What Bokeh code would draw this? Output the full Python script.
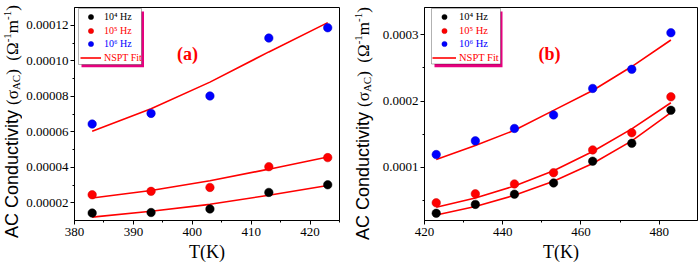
from bokeh.plotting import figure
from bokeh.layouts import row
from bokeh.models import (Range1d, SingleIntervalTicker, PrintfTickFormatter,
                          Legend, LegendItem, BoxAnnotation, Label, Div)
from bokeh.embed import file_html
from bokeh.resources import INLINE

# ---------------- data ----------------
T_a = [383, 393, 403, 413, 423]
a_1e4 = [1.43e-5, 1.46e-5, 1.66e-5, 2.59e-5, 3.02e-5]
a_1e5 = [2.46e-5, 2.65e-5, 2.87e-5, 4.04e-5, 4.55e-5]
a_1e6 = [6.44e-5, 7.04e-5, 8.02e-5, 1.128e-4, 1.186e-4]
a_fit_1e4 = [1.20e-5, 1.53e-5, 1.92e-5, 2.43e-5, 2.98e-5]
a_fit_1e5 = [2.28e-5, 2.70e-5, 3.25e-5, 3.90e-5, 4.58e-5]
a_fit_1e6 = [6.04e-5, 7.30e-5, 8.80e-5, 1.05e-4, 1.215e-4]

T_b = [423, 433, 443, 453, 463, 473, 483]
b_1e4 = [3.09e-5, 4.43e-5, 5.97e-5, 7.66e-5, 1.094e-4, 1.363e-4, 1.861e-4]
b_1e5 = [4.67e-5, 6.02e-5, 7.51e-5, 9.20e-5, 1.264e-4, 1.522e-4, 2.064e-4]
b_1e6 = [1.194e-4, 1.40e-4, 1.587e-4, 1.791e-4, 2.19e-4, 2.478e-4, 3.03e-4]
b_fit_1e4 = [2.84e-5, 4.10e-5, 5.80e-5, 7.90e-5, 1.06e-4, 1.40e-4, 1.825e-4]
b_fit_1e5 = [4.00e-5, 5.40e-5, 7.20e-5, 9.50e-5, 1.24e-4, 1.58e-4, 1.975e-4]
b_fit_1e6 = [1.12e-4, 1.33e-4, 1.56e-4, 1.86e-4, 2.16e-4, 2.52e-4, 2.92e-4]

series_labels = ["10\u2074 Hz", "10\u2075 Hz", "10\u2076 Hz"]
fit_label = "NSPT Fit"
x_label = "T(K)"
x_tick_step_a, y_tick_step_a = 10, 2e-5
x_tick_step_b, y_tick_step_b = 20, 1e-4

SERIF = "Liberation Serif"
SANS = "Liberation Sans"
COLORS = ["#000000", "#ff0000", "#0000ff"]
EDGES = ["#000000", "#cc0000", "#0000cc"]
LABEL_COLORS = ["#000000", "#ff0000", "#0000ff"]
FIT_COLOR = "#ff0000"
SHADOW = "#e6007e"

FIG_H = 268
TOP = 7
BOTTOM = 48
FRAME_H = FIG_H - TOP - BOTTOM


def ylabel_div(width, left, start_y):
    serif = f"font-family:'{SERIF}';font-size:17px;"
    sub = f"font-family:'{SERIF}';font-size:11px;position:relative;top:2px;"
    sup = f"font-family:'{SERIF}';font-size:11px;position:relative;top:-7px;"
    html = (
        f'<div style="position:relative;width:{width}px;height:{FIG_H}px;overflow:hidden;">'
        f'<div style="position:absolute;left:{left}px;top:{start_y}px;'
        f'transform-origin:0 0;transform:rotate(-90deg);white-space:nowrap;'
        f"font-family:'{SANS}';font-size:18px;line-height:20px;color:#000;\">"
        f'AC Conductivity '
        f'<span style="{serif}">(\u03c3</span><span style="{sub}">AC</span>'
        f'<span style="{serif}">)&nbsp; (\u03a9</span><span style="{sup}">-1</span>'
        f'<span style="{serif}">m</span><span style="{sup}">-1</span>'
        f'<span style="{serif}">)</span>'
        f'</div></div>'
    )
    return Div(text=html, width=width, height=FIG_H, margin=0)


def panel(T, pts, fits, xr, yr, xstep, ystep, fmt, bl, fw, br, tag, tagx,
          leg_x, gw, box, shadow, fsize):
    p = figure(width=bl + fw + br, height=FIG_H, x_range=Range1d(*xr),
               y_range=Range1d(*yr), output_backend="svg", toolbar_location=None,
               min_border_left=bl, min_border_right=br, min_border_top=TOP,
               min_border_bottom=BOTTOM, title_location=None)
    p.grid.visible = False
    p.outline_line_color = "black"
    p.outline_line_width = 1
    p.background_fill_color = "white"
    p.border_fill_color = "white"
    p.xaxis.ticker = SingleIntervalTicker(interval=xstep, num_minor_ticks=2)
    p.yaxis.ticker = SingleIntervalTicker(interval=ystep, num_minor_ticks=2)
    p.yaxis.formatter = PrintfTickFormatter(format=fmt)
    for ax in (p.xaxis, p.yaxis):
        ax.axis_line_color = "black"
        ax.major_tick_line_color = "black"
        ax.minor_tick_line_color = "black"
        ax.major_tick_out = 4
        ax.major_tick_in = 0
        ax.minor_tick_out = 2
        ax.minor_tick_in = 0
        ax.major_label_text_font = SERIF
        ax.major_label_text_font_size = "13px"
        ax.major_label_text_color = "black"
    p.xaxis.major_label_standoff = 3
    p.yaxis.major_label_standoff = 2
    p.xaxis.axis_label = x_label
    p.xaxis.axis_label_text_font = SERIF
    p.xaxis.axis_label_text_font_style = "normal"
    p.xaxis.axis_label_text_font_size = "18px"
    p.xaxis.axis_label_text_color = "black"
    p.xaxis.axis_label_standoff = 3

    fit_r = None
    scat = []
    for i in range(3):
        fit_r = p.line(T, fits[i], line_color=FIT_COLOR, line_width=1.6)
    for i in range(3):
        scat.append(p.scatter(T, pts[i], size=8.5, fill_color=COLORS[i],
                              line_color=EDGES[i], line_width=0.5))

    # legend box + shadow
    p.add_layout(BoxAnnotation(left=shadow[0], right=shadow[1], bottom=shadow[2], top=shadow[3],
                               left_units="screen", right_units="screen",
                               bottom_units="screen", top_units="screen",
                               fill_color=SHADOW, fill_alpha=1, line_alpha=0))
    p.add_layout(BoxAnnotation(left=box[0], right=box[1], bottom=box[2], top=box[3],
                               left_units="screen", right_units="screen",
                               bottom_units="screen", top_units="screen",
                               fill_color="white", fill_alpha=1, line_color="black",
                               line_width=1))
    rows = [9, 23, 36.5, 50]
    items = [(series_labels[i], scat[i], LABEL_COLORS[i]) for i in range(3)]
    items.append((fit_label, fit_r, FIT_COLOR))
    for (lab, r, c), rc in zip(items, rows):
        leg = Legend(items=[LegendItem(label=lab, renderers=[r])],
                     location=(leg_x, FRAME_H - (rc + 6.5)), padding=0, margin=0,
                     spacing=0, glyph_width=gw, glyph_height=13, label_height=13,
                     label_standoff=3, label_text_font=SERIF,
                     label_text_font_size=fsize, label_text_color=c,
                     border_line_alpha=0, background_fill_alpha=0)
        p.add_layout(leg)

    p.add_layout(Label(x=tagx, y=FRAME_H - 46, x_units="screen", y_units="screen", text=tag,
                       text_font=SERIF, text_font_style="bold", text_font_size="18px",
                       text_color="#ff0000", text_align="center", text_baseline="middle"))
    return p


la = ylabel_div(22, 2, 238)
pa = panel(T_a, [a_1e4, a_1e5, a_1e6], [a_fit_1e4, a_fit_1e5, a_fit_1e6],
           (380, 425), (1.01e-5, 1.30e-4), x_tick_step_a, y_tick_step_a, "%.5f",
           52, 265, 11, "(a)", 113, 6, 21,
           (4, 67, FRAME_H - 57, FRAME_H - 1), (7, 69.5, FRAME_H - 59.7, FRAME_H - 4), "10px")
lb = ylabel_div(24, 3, 240)
pb = panel(T_b, [b_1e4, b_1e5, b_1e6], [b_fit_1e4, b_fit_1e5, b_fit_1e6],
           (420, 489.8), (2.0e-5, 3.41e-4), x_tick_step_b, y_tick_step_b, "%.4f",
           50, 273, 3, "(b)", 125, 8, 24,
           (7, 76, FRAME_H - 56.5, FRAME_H - 1), (10, 78, FRAME_H - 59.7, FRAME_H - 4), "10.5px")

layout = row(la, pa, lb, pb)
open("out.html", "w").write(file_html(layout, INLINE))
